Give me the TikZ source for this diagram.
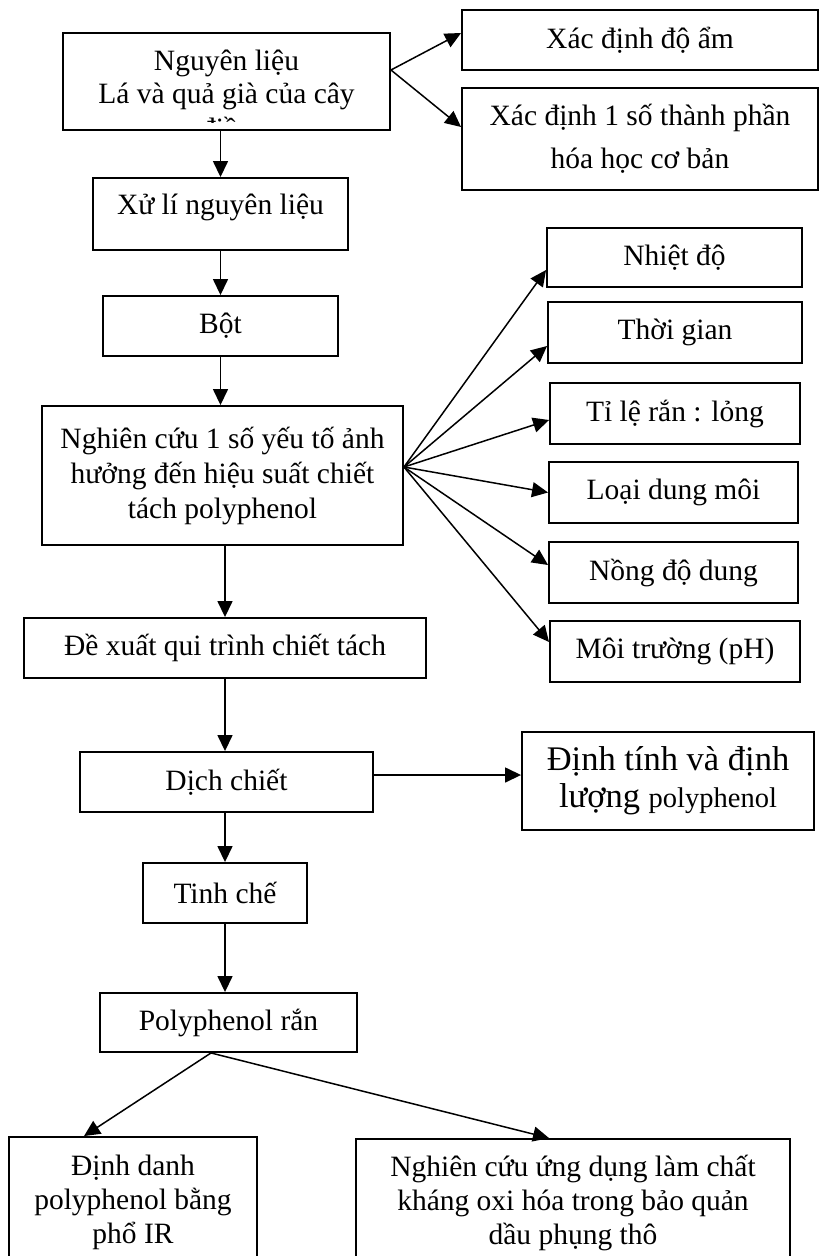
\documentclass[tikz,border=0pt]{standalone}
\usepackage{fontspec}
\setmainfont{Liberation Serif}
\usetikzlibrary{arrows.meta,calc}
\begin{document}
\begin{tikzpicture}[x=1pt,y=-1pt,
  box/.style={draw, line width=1.9pt, inner sep=0pt, align=center,
    font=\fontsize{29.5}{35}\selectfont},
  txt/.style={inner sep=0pt, font=\fontsize{29.5}{35}\selectfont},
  arr/.style={line width=1.5pt, -{Triangle[length=16pt,width=15pt]}}]
\useasboundingbox (0,0) rectangle (820,1256);
\fill[white] (0,0) rectangle (820,1256);

% main column
\node[box, minimum width=327pt, minimum height=97pt] (A) at (226.5,81.5) {};
\begin{scope}
  \clip (63,33) rectangle (390,122);
  \node[txt, anchor=base] (A1) at (226.5,70) {Nguyên liệu};
  \node[txt, anchor=base] (A2) at (226.5,103) {Lá và quả già của cây};
  \node[txt, anchor=base] (A3) at (226.5,138) {điều};
\end{scope}

\node[box, minimum width=356pt, minimum height=60pt] (B) at (640,40) {Xác định độ ẩm};
\node[box, minimum width=356pt, minimum height=102pt, font=\fontsize{29.5}{43}\selectfont] (C) at (640,139) {Xác định 1 số thành phần\\hóa học cơ bản};

\node[box, minimum width=255pt, minimum height=72pt] (D) at (220.5,214) {\smash{Xử lí nguyên liệu}};
\node[box, minimum width=235pt, minimum height=60pt] (E) at (220.5,326) {Bột};
\node[box, minimum width=361pt, minimum height=139pt] (F) at (222.5,475.5) {Nghiên cứu 1 số yếu tố ảnh\\hưởng đến hiệu suất chiết\\tách polyphenol};

% factor boxes
\node[box, minimum width=255pt, minimum height=59pt] (R1) at (674.5,257.5) {Nhiệt độ};
\node[box, minimum width=254pt, minimum height=61pt] (R2) at (675,332.5) {Thời gian};
\node[box, minimum width=250pt, minimum height=61pt] (R3) at (675,413.5) {Tỉ lệ rắn : lỏng};
\node[box, minimum width=249pt, minimum height=61pt] (R4) at (673.5,492.5) {Loại dung môi};
\node[box, minimum width=249pt, minimum height=61pt] (R5) at (673.5,572.5) {Nồng độ dung};
\node[box, minimum width=250pt, minimum height=61pt] (R6) at (675,651.5) {Môi trường (pH)};

\node[box, minimum width=402pt, minimum height=60pt] (G) at (225,648) {Đề xuất qui trình chiết tách};
\node[box, minimum width=293pt, minimum height=60pt] (H) at (226.5,782) {Dịch chiết};
\node[box, minimum width=292pt, minimum height=98pt, font=\fontsize{34.5}{37}\selectfont] (I) at (668,781) {Định tính và định\\lượng {\fontsize{28.5}{37}\selectfont polyphenol}};
\node[box, minimum width=164pt, minimum height=60pt] (J) at (225,893) {Tinh chế};
\node[box, minimum width=257pt, minimum height=59pt] (K) at (228.5,1022.5) {Polyphenol rắn};
\node[box, minimum width=248pt, minimum height=130pt, font=\fontsize{29.5}{34}\selectfont] (L) at (133,1202) {Định danh\\polyphenol bằng\\phổ IR};
\node[box, minimum width=434pt, minimum height=128pt, font=\fontsize{29.5}{34}\selectfont] (M) at (573,1203) {Nghiên cứu ứng dụng làm chất\\kháng oxi hóa trong bảo quản\\dầu phụng thô};

% connectors
\coordinate (Ao) at ([yshift=11.5pt]A.east);
\draw[arr] (Ao) -- ([yshift=7pt]B.west);
\draw[arr] (Ao) -- ([yshift=12pt]C.west);
\draw[arr] (A.south -| D.north) -- (D.north);
\draw[arr] (D.south) -- (D.south |- E.north);
\draw[arr] (E.south) -- (E.south |- F.north);

\coordinate (Fo) at ([yshift=8.5pt]F.east);
\draw[arr] (Fo) -- ([yshift=-12.5pt]R1.west);
\draw[arr] (Fo) -- ([yshift=-13.5pt]R2.west);
\draw[arr] (Fo) -- ([yshift=-6.5pt]R3.west);
\draw[arr] (Fo) -- (R4.west);
\draw[arr] (Fo) -- ([yshift=7.5pt]R5.west);
\draw[arr] (Fo) -- ([yshift=9.5pt]R6.west);

\draw[arr] (F.south -| G.north) -- (G.north);
\draw[arr] (G.south) -- (G.south |- H.north);
\draw[arr] ([yshift=7pt]H.east) -- ([yshift=7pt]H.east -| I.west);
\draw[arr] (H.south -| J.north) -- (J.north);
\draw[arr] (J.south) -- (J.south |- K.north);

\coordinate (Ko) at ([xshift=-17.5pt]K.south);
\draw[arr] (Ko) -- ([xshift=-49pt]L.north);
\draw[arr] (Ko) -- ([xshift=-24pt]M.north);
\end{tikzpicture}
\end{document}
